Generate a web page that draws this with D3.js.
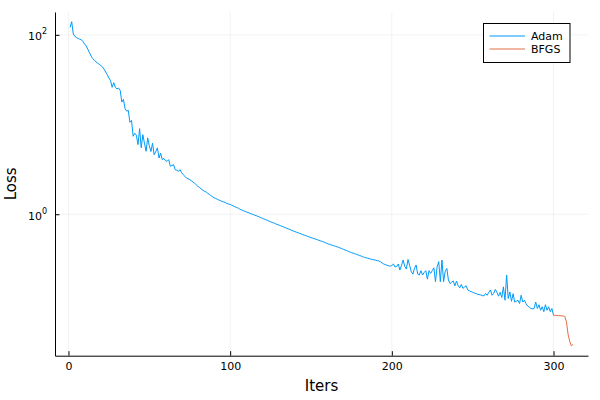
<html>
<head>
  <meta charset="utf-8">
  <title>Loss</title>
  <style>
    body { margin: 0; background: #fff; }
    text { font-family: "DejaVu Sans", sans-serif; }
  </style>
</head>
<body>
  <script src="https://cdn.jsdelivr.net/npm/d3@7"></script>
  <script>
    // loss per iteration (Adam = iters 1..300, BFGS = 300..312)
    var adamLoss = [
      121, 140, 102, 96, 93, 91, 89.5, 88, 84, 79,
      75, 69, 63, 58, 54.5, 52, 50, 48.5, 47, 45.5,
      44, 41.5, 38.5, 36, 33, 31, 26, 29.3, 26, 25,
      25.5, 24, 17.8, 19.1, 15, 14.1, 14.4, 10.6, 11.1, 7.4,
      8.0, 7.6, 5.98, 9.0, 5.5, 7.7, 6.2, 5.03, 7.1, 5.8,
      5.0, 6.2, 4.6, 5.0, 5.5, 4.24, 4.8, 4.06, 4.2, 3.95,
      3.89, 4.06, 3.42, 3.5, 3.57, 3.14, 3.1, 3.01, 3.14, 2.9,
      2.76, 2.65, 2.53, 2.48, 2.43, 2.36, 2.29, 2.22, 2.13, 2.05,
      1.99, 1.92, 1.86, 1.81, 1.78, 1.72, 1.67, 1.62, 1.57, 1.53,
      1.50, 1.47, 1.44, 1.42, 1.39, 1.37, 1.35, 1.32, 1.30, 1.29,
      1.26, 1.24, 1.21, 1.19, 1.17, 1.14, 1.12, 1.10, 1.08, 1.06,
      1.045, 1.03, 1.01, 0.995, 0.98, 0.965, 0.95, 0.935, 0.915, 0.90,
      0.885, 0.87, 0.855, 0.84, 0.825, 0.81, 0.80, 0.785, 0.77, 0.76,
      0.748, 0.735, 0.722, 0.71, 0.698, 0.686, 0.674, 0.662, 0.651, 0.64,
      0.631, 0.621, 0.612, 0.603, 0.593, 0.584, 0.575, 0.566, 0.558, 0.55,
      0.542, 0.535, 0.527, 0.519, 0.512, 0.504, 0.497, 0.489, 0.481, 0.472,
      0.465, 0.458, 0.452, 0.446, 0.44, 0.434, 0.428, 0.421, 0.414, 0.407,
      0.4, 0.394, 0.386, 0.38, 0.374, 0.369, 0.363, 0.358, 0.352, 0.347,
      0.342, 0.336, 0.331, 0.327, 0.324, 0.32, 0.316, 0.313, 0.31, 0.307,
      0.304, 0.302, 0.295, 0.286, 0.279, 0.274, 0.27, 0.266, 0.264, 0.268,
      0.279, 0.258, 0.262, 0.279, 0.239, 0.27, 0.309, 0.262, 0.245, 0.313,
      0.27, 0.23, 0.215, 0.25, 0.272, 0.215, 0.21, 0.235, 0.21, 0.224,
      0.235, 0.189, 0.235, 0.219, 0.235, 0.253, 0.177, 0.26, 0.296, 0.177,
      0.309, 0.177, 0.23, 0.249, 0.185, 0.169, 0.175, 0.18, 0.159, 0.18,
      0.16, 0.151, 0.165, 0.149, 0.155, 0.159, 0.143, 0.14, 0.137, 0.135,
      0.132, 0.131, 0.128, 0.127, 0.126, 0.124, 0.123, 0.131, 0.125, 0.135,
      0.143, 0.125, 0.131, 0.145, 0.135, 0.122, 0.135, 0.118, 0.155, 0.11,
      0.21, 0.115, 0.136, 0.107, 0.13, 0.105, 0.107, 0.11, 0.101, 0.125,
      0.105, 0.11, 0.101, 0.095, 0.092, 0.089, 0.088, 0.089, 0.105, 0.089,
      0.098, 0.085, 0.093, 0.082, 0.098, 0.085, 0.093, 0.082, 0.089, 0.0748
    ]
    var bfgsStart = 300
    var bfgsLoss = [0.0748, 0.0746, 0.0744, 0.0742, 0.074, 0.0737, 0.0734, 0.0725, 0.063, 0.046, 0.0385, 0.034, 0.0354]
    var seriesNames = ["Adam", "BFGS"]
    var seriesColors = ["#009af9", "#e26f46"]
    var xTicks = [0, 100, 200, 300]
    var yTickExps = [0, 2]

    var adam = adamLoss.map((v, i) => ({ it: i + 1, loss: v }))
    var bfgs = bfgsLoss.map((v, i) => ({ it: bfgsStart + i, loss: v }))
    var all = adam.concat(bfgs)

    var width = 600, height = 400
    var margin = { left: 55, right: 12, top: 12, bottom: 44.3 }

    var svg = d3.select("body").append("svg")
      .attr("width", width)
      .attr("height", height)

    // 3% padding like Plots.jl
    var xe = d3.extent(all, d => d.it)
    var xp = (xe[1] - xe[0]) * 0.03
    var x = d3.scaleLinear()
      .domain([xe[0] - xp, xe[1] + xp])
      .range([margin.left, width - margin.right])

    var le = d3.extent(all, d => Math.log10(d.loss))
    var lp = (le[1] - le[0]) * 0.03
    var y = d3.scaleLog()
      .domain([Math.pow(10, le[0] - lp), Math.pow(10, le[1] + lp)])
      .range([height - margin.bottom, margin.top])

    var yTicks = yTickExps.map(e => Math.pow(10, e))

    // grid
    svg.append("g").selectAll("line").data(xTicks).enter().append("line")
      .attr("x1", d => x(d)).attr("x2", d => x(d))
      .attr("y1", margin.top).attr("y2", height - margin.bottom)
      .attr("stroke", "#000").attr("stroke-opacity", 0.1).attr("stroke-width", 0.5)
    svg.append("g").selectAll("line").data(yTicks).enter().append("line")
      .attr("x1", margin.left).attr("x2", width - margin.right)
      .attr("y1", d => y(d)).attr("y2", d => y(d))
      .attr("stroke", "#000").attr("stroke-opacity", 0.1).attr("stroke-width", 0.5)

    // axes
    var xAxis = svg.append("g")
      .attr("transform", `translate(0,${height - margin.bottom})`)
      .call(d3.axisBottom(x).tickValues(xTicks).tickSizeInner(-4.5).tickSizeOuter(0).tickPadding(7))
    xAxis.selectAll("text").attr("font-size", 11).attr("fill", "#000")
      .style("font-family", "'DejaVu Sans', sans-serif")

    var yAxis = svg.append("g")
      .attr("transform", `translate(${margin.left},0)`)
      .call(d3.axisLeft(y).tickValues(yTicks).tickFormat(() => "").tickSizeInner(-4.5).tickSizeOuter(0).tickPadding(8))
    yAxis.selectAll(".tick text").each(function (d) {
      var t = d3.select(this).attr("font-size", 11).attr("fill", "#000").attr("dy", "0.45em")
        .style("font-family", "'DejaVu Sans', sans-serif")
      t.append("tspan").text("10")
      t.append("tspan").attr("font-size", 8).attr("dy", "-0.75em").text(Math.round(Math.log10(d)))
    })
    svg.selectAll(".domain").attr("stroke", "#000")
    svg.selectAll(".tick line").attr("stroke", "#000")

    // lines
    var line = d3.line().x(d => x(d.it)).y(d => y(d.loss))
    svg.append("path").datum(adam)
      .attr("d", line).attr("fill", "none")
      .attr("stroke", seriesColors[0]).attr("stroke-width", 1)
    svg.append("path").datum(bfgs)
      .attr("d", line).attr("fill", "none")
      .attr("stroke", seriesColors[1]).attr("stroke-width", 1)

    // axis titles
    svg.append("text")
      .attr("x", (margin.left + width - margin.right) / 2)
      .attr("y", 390.5)
      .attr("text-anchor", "middle")
      .attr("font-size", 15)
      .text("Iters")
    svg.append("text")
      .attr("transform", `translate(15.5,${(margin.top + height - margin.bottom) / 2}) rotate(-90)`)
      .attr("text-anchor", "middle")
      .attr("font-size", 15)
      .text("Loss")

    // legend
    var lg = svg.append("g").attr("transform", "translate(483.5,23.5)")
    lg.append("rect")
      .attr("width", 86.5).attr("height", 39)
      .attr("fill", "#fff").attr("stroke", "#000").attr("stroke-width", 1)
    seriesNames.forEach((name, i) => {
      var cy = 12.5 + i * 13
      lg.append("line")
        .attr("x1", 6).attr("x2", 41.5).attr("y1", cy).attr("y2", cy)
        .attr("stroke", seriesColors[i]).attr("stroke-width", 1)
      lg.append("text")
        .attr("x", 47.5).attr("y", cy + 4)
        .attr("font-size", 11)
        .text(name)
    })
  </script>
</body>
</html>
